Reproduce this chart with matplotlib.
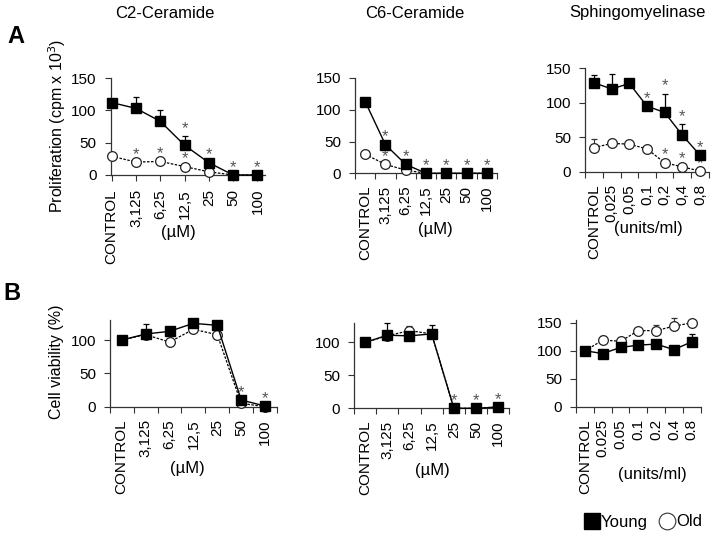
import matplotlib
matplotlib.use("Agg")
import matplotlib.pyplot as plt
from matplotlib.lines import Line2D

plt.rcParams['font.family'] = ['Liberation Sans', 'DejaVu Sans']

# ---------------- data ----------------
cats_um = ["CONTROL", "3,125", "6,25", "12,5", "25", "50", "100"]
cats_smase_comma = ["CONTROL", "0,025", "0,05", "0,1", "0,2", "0,4", "0,8"]
cats_smase_dot = ["CONTROL", "0.025", "0.05", "0.1", "0.2", "0.4", "0.8"]

# A: proliferation (cpm x 10^3)
c2_prol_young = [112, 103, 83, 46, 19, 0, 0]
c2_prol_young_err = [0, 18, 18, 14, 0, 0, 0]
c2_prol_old = [29, 20, 21, 13, 5, 0, 0]
c2_prol_old_err = [5, 0, 0, 0, 0, 0, 0]
c2_prol_sig_young = [0, 0, 0, 1, 1, 1, 1]
c2_prol_sig_old = [0, 1, 1, 1, 0, 0, 0]

c6_prol_young = [113, 45, 14, 0, 0, 0, 0]
c6_prol_young_err = [0, 0, 0, 0, 0, 0, 0]
c6_prol_old = [30, 14, 5, 0, 0, 0, 0]
c6_prol_old_err = [4, 0, 0, 0, 0, 0, 0]
c6_prol_sig_young = [0, 1, 1, 1, 1, 1, 1]
c6_prol_sig_old = [0, 1, 0, 0, 0, 0, 0]

sm_prol_young = [129, 120, 128, 95, 86, 53, 24]
sm_prol_young_err = [11, 22, 5, 0, 27, 16, 0]
sm_prol_old = [35, 41, 40, 33, 13, 7, 1]
sm_prol_old_err = [12, 5, 3, 3, 0, 0, 0]
sm_prol_sig_young = [0, 0, 0, 1, 1, 1, 1]
sm_prol_sig_old = [0, 0, 0, 0, 1, 1, 1]

# B: cell viability (%)
c2_via_young = [100, 109, 113, 125, 122, 10, 1]
c2_via_young_err = [0, 15, 0, 0, 0, 0, 0]
c2_via_old = [100, 108, 97, 116, 108, 5, 0]
c2_via_old_err = [0, 0, 6, 0, 0, 0, 0]
c2_via_sig_young = [0, 0, 0, 0, 0, 1, 1]
c2_via_sig_old = [0, 0, 0, 0, 0, 0, 0]

c6_via_young = [100, 111, 110, 113, 0, 0, 2]
c6_via_young_err = [0, 19, 0, 13, 0, 0, 0]
c6_via_old = [100, 110, 118, 113, 0, 0, 2]
c6_via_old_err = [0, 0, 7, 0, 0, 0, 0]
c6_via_sig_young = [0, 0, 0, 0, 1, 1, 1]
c6_via_sig_old = [0, 0, 0, 0, 0, 0, 0]

sm_via_young = [100, 95, 106, 110, 112, 102, 116]
sm_via_young_err = [0, 0, 0, 0, 0, 0, 14]
sm_via_old = [100, 119, 117, 136, 136, 144, 150]
sm_via_old_err = [0, 7, 0, 3, 10, 14, 2]
sm_via_sig_young = [0, 0, 0, 0, 0, 0, 0]
sm_via_sig_old = [0, 0, 0, 0, 0, 0, 0]

titles = ["C2-Ceramide", "C6-Ceramide", "Sphingomyelinase"]

# ---------------- layout ----------------
W, H = 717, 538
fig = plt.figure(figsize=(W / 100, H / 100), dpi=100)


def rect(l, r, t, b):
    return [l / W, 1 - b / H, (r - l) / W, (b - t) / H]


def draw(ax, cats, young, yerr, old, oerr, sig_y, sig_o, ylim, yticks,
         xlim=(-0.5, 6.5), ticks_between=True):
    x = list(range(len(cats)))
    # old series (open circles, dotted)
    ax.errorbar(x, old, yerr=[[0] * len(old), oerr], color='black',
                ecolor='#333333', elinewidth=0.8, capsize=2.5, capthick=0.8,
                linestyle=(0, (2, 1.2)), linewidth=0.9, marker='o',
                markersize=7, markerfacecolor='white', markeredgecolor='#222222',
                markeredgewidth=0.9, clip_on=False, zorder=3)
    # young series (filled squares, solid)
    ax.errorbar(x, young, yerr=[[0] * len(young), yerr], color='black',
                ecolor='black', elinewidth=0.9, capsize=2.5, capthick=0.9,
                linestyle='-', linewidth=1.0, marker='s', markersize=7,
                markerfacecolor='black', markeredgecolor='black',
                clip_on=False, zorder=4)
    for i in x:
        if sig_y[i]:
            ax.annotate('*', (i, young[i] + yerr[i]), xytext=(0, 2.4),
                        textcoords='offset points', ha='center', va='baseline',
                        color='#555555', fontsize=12, annotation_clip=False)
        if sig_o[i]:
            ax.annotate('*', (i, old[i] + oerr[i]), xytext=(0, 2.4),
                        textcoords='offset points', ha='center', va='baseline',
                        color='#555555', fontsize=12, annotation_clip=False)
    ax.set_xlim(*xlim)
    ax.set_ylim(*ylim)
    ax.set_yticks(yticks)
    ax.set_yticklabels([str(v) for v in yticks], fontsize=11)
    if ticks_between:
        ax.set_xticks([i - 0.5 for i in x] + [len(x) - 0.5], minor=False)
        ax.set_xticklabels([''] * (len(x) + 1))
        ax.set_xticks(x, minor=True)
        ax.set_xticklabels(cats, minor=True, rotation=90, fontsize=11)
        ax.tick_params(axis='x', which='minor', length=0, pad=9)
    else:
        ax.set_xticks(x)
        ax.set_xticklabels(cats, rotation=90, fontsize=11)
    ax.tick_params(axis='x', which='major', direction='out', length=4,
                   width=0.8, pad=6, color='#333333')
    ax.tick_params(axis='y', direction='out', length=4, width=0.8, pad=6,
                   color='#333333')
    for s in ['top', 'right']:
        ax.spines[s].set_visible(False)
    for s in ['left', 'bottom']:
        ax.spines[s].set_linewidth(0.9)
        ax.spines[s].set_color('#333333')
    ax.patch.set_alpha(0)


axA1 = fig.add_axes(rect(110.5, 265, 78, 175))
draw(axA1, cats_um, c2_prol_young, c2_prol_young_err, c2_prol_old,
     c2_prol_old_err, c2_prol_sig_young, c2_prol_sig_old, (0, 150),
     [0, 50, 100, 150], xlim=(-0.05, 6.31), ticks_between=False)

axA2 = fig.add_axes(rect(355, 497, 78, 173.3))
draw(axA2, cats_um, c6_prol_young, c6_prol_young_err, c6_prol_old,
     c6_prol_old_err, c6_prol_sig_young, c6_prol_sig_old, (0, 150),
     [0, 50, 100, 150])

axA3 = fig.add_axes(rect(585.2, 708.8, 68.3, 171.7))
draw(axA3, cats_smase_comma, sm_prol_young, sm_prol_young_err, sm_prol_old,
     sm_prol_old_err, sm_prol_sig_young, sm_prol_sig_old, (0, 150),
     [0, 50, 100, 150])

axB1 = fig.add_axes(rect(109.8, 277, 320, 406.7))
draw(axB1, cats_um, c2_via_young, c2_via_young_err, c2_via_old,
     c2_via_old_err, c2_via_sig_young, c2_via_sig_old, (0, 130),
     [0, 50, 100])

axB2 = fig.add_axes(rect(353.9, 509.4, 322.7, 408.3))
draw(axB2, cats_um, c6_via_young, c6_via_young_err, c6_via_old,
     c6_via_old_err, c6_via_sig_young, c6_via_sig_old, (0, 130),
     [0, 50, 100])

axB3 = fig.add_axes(rect(576.1, 700.6, 320, 406.7))
draw(axB3, cats_smase_dot, sm_via_young, sm_via_young_err, sm_via_old,
     sm_via_old_err, sm_via_sig_young, sm_via_sig_old, (0, 155),
     [0, 50, 100, 150])


def ftext(x, y, s, **kw):
    fig.text(x / W, 1 - y / H, s, **kw)


# titles
ftext(165, 13, titles[0], ha='center', va='center', fontsize=12)
ftext(415, 13, titles[1], ha='center', va='center', fontsize=12)
ftext(637, 13, titles[2], ha='center', va='center', fontsize=12)

# panel letters
ftext(16, 37, "A", ha='center', va='center', fontsize=17, fontweight='bold')
ftext(12, 294, "B", ha='center', va='center', fontsize=17, fontweight='bold')

# y labels
ftext(57, 126, "Proliferation (cpm x 10$^3$)", ha='center', va='center',
      rotation=90, fontsize=11.5)
ftext(57, 362, "Cell viability (%)", ha='center', va='center',
      rotation=90, fontsize=11.5)

# unit labels
ftext(178, 232, "(\u00b5M)", ha='center', va='center', fontsize=12)
ftext(435, 230, "(\u00b5M)", ha='center', va='center', fontsize=12)
ftext(648, 229, "(units/ml)", ha='center', va='center', fontsize=12)
ftext(187, 468, "(\u00b5M)", ha='center', va='center', fontsize=12)
ftext(432, 470, "(\u00b5M)", ha='center', va='center', fontsize=12)
ftext(652, 475, "(units/ml)", ha='center', va='center', fontsize=12)

# legend
handles = [
    Line2D([], [], linestyle='none', marker='s', markersize=11,
           markerfacecolor='black', markeredgecolor='black'),
    Line2D([], [], linestyle='none', marker='o', markersize=12,
           markerfacecolor='white', markeredgecolor='#333333',
           markeredgewidth=0.8),
]
fig.legend(handles, ["Young", "Old"], loc='center',
           bbox_to_anchor=(643 / W, 1 - 522 / H), ncol=2, frameon=False,
           fontsize=12, handlelength=0.9, handletextpad=0.1,
           columnspacing=0.7, borderpad=0)

fig.savefig("out.png", dpi=100)
